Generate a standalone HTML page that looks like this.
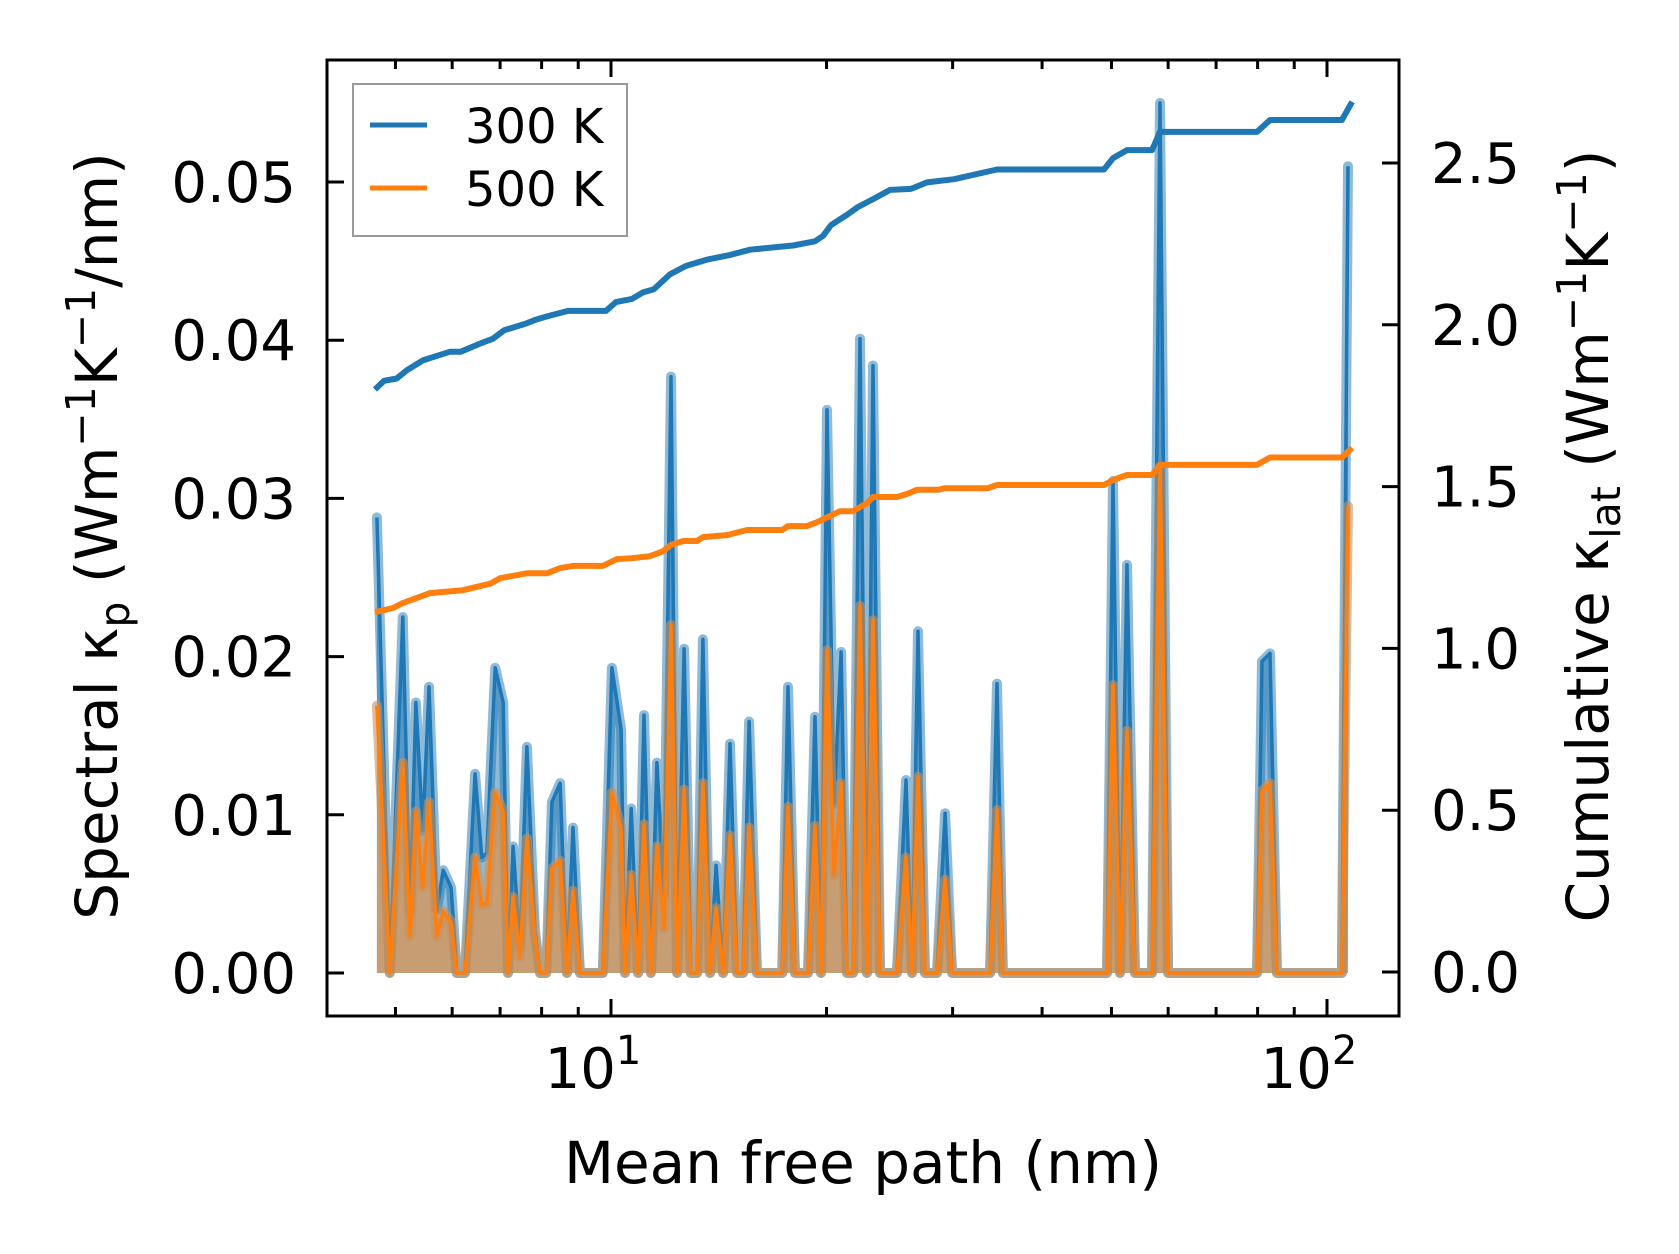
<!DOCTYPE html>
<html><head><meta charset="utf-8"><style>
html,body{margin:0;padding:0;background:#fff;}
svg{display:block;font-family:"DejaVu Sans","Liberation Sans",sans-serif;}
</style></head><body>
<svg id="chart" width="1679" height="1254" viewBox="0 0 1679 1254" xmlns="http://www.w3.org/2000/svg" style="position:absolute;left:0;top:0">
<rect width="1679" height="1254" fill="#fff"/>
<defs><clipPath id="clip"><rect x="327" y="60" width="1072" height="956"/></clipPath></defs>
<g id="plot" clip-path="url(#clip)"></g>
<g id="axes"></g>
<rect x="327" y="60" width="1072" height="956" fill="none" stroke="#000" stroke-width="3"/>
<g>
<rect x="353" y="84" width="274" height="152" fill="#fff" fill-opacity="0.8" stroke="#999" stroke-width="2"/>
<line x1="370" y1="125" x2="427" y2="125" stroke="#1f77b4" stroke-width="5"/>
<text x="465" y="143" font-size="48">300 K</text>
<line x1="370" y1="188" x2="427" y2="188" stroke="#ff7f0e" stroke-width="5"/>
<text x="465" y="206" font-size="48">500 K</text>
</g>
<text x="863" y="1183" font-size="58" text-anchor="middle">Mean free path (nm)</text>
<text transform="translate(117,536) rotate(-90)" font-size="58" text-anchor="middle">Spectral κ<tspan font-size="41" dy="12">p</tspan><tspan dy="-12"> (Wm</tspan><tspan font-size="41" dy="-22">−1</tspan><tspan dy="22">K</tspan><tspan font-size="41" dy="-22">−1</tspan><tspan dy="22">/nm)</tspan></text>
<text transform="translate(1608,536) rotate(-90)" font-size="58" text-anchor="middle">Cumulative κ<tspan font-size="41" dy="12">lat</tspan><tspan dy="-12"> (Wm</tspan><tspan font-size="41" dy="-22">−1</tspan><tspan dy="22">K</tspan><tspan font-size="41" dy="-22">−1</tspan><tspan dy="22">)</tspan></text>
</svg>
<script>
const mfp = [4.71,4.91,5.12,5.24,5.34,5.46,5.57,5.71,5.83,5.98,6.09,6.25,6.46,6.60,6.71,6.89,7.07,7.18,7.30,7.46,7.63,7.83,7.96,8.12,8.27,8.49,8.68,8.85,9.05,9.74,10.03,10.33,10.46,10.67,10.91,11.12,11.37,11.59,11.86,12.13,12.37,12.65,12.93,13.19,13.44,13.75,14.02,14.34,14.66,15.0,15.29,15.59,15.99,17.34,17.67,18.07,18.84,19.27,19.65,20.03,20.49,20.96,21.36,21.78,22.27,22.78,23.22,23.75,25.08,25.82,26.33,26.84,27.45,28.53,29.28,29.95,33.83,34.60,35.27,49.29,50.25,51.39,52.57,53.94,56.96,58.45,59.99,79.84,81.14,83.26,85.16,104.9,107.0];
const spec300 = [0.0288,0,0.0225,0.0038,0.0171,0.009,0.0181,0.004,0.0065,0.0054,0,0,0.0126,0.0073,0.0076,0.0193,0.0171,0,0.008,0.0017,0.0143,0.0027,0,0,0.0108,0.012,0,0.0092,0,0,0.0193,0.0154,0,0.0104,0,0.0163,0,0.0133,0.0049,0.0377,0,0.0205,0,0,0.0211,0,0.0068,0,0.0145,0,0,0.0159,0,0,0.0181,0,0,0.0162,0,0.0356,0.0107,0.0203,0,0,0.0401,0,0.0384,0,0,0.0122,0,0.0216,0,0,0.0101,0,0,0.0183,0,0,0.0311,0,0.0258,0,0,0.055,0,0,0.0197,0.0202,0,0,0.051];
const spec500 = [0.0169,0,0.0133,0.0023,0.0102,0.0054,0.0108,0.0023,0.0039,0.0032,0,0,0.0073,0.0043,0.0044,0.0114,0.0102,0,0.0048,0.001,0.0085,0.0023,0,0,0.0066,0.0071,0,0.0052,0,0,0.0114,0.0091,0,0.0062,0,0.0094,0,0.008,0.0028,0.022,0,0.0116,0,0,0.012,0,0.0041,0,0.0087,0,0,0.0092,0,0,0.0105,0,0,0.0093,0,0.0204,0.0062,0.012,0,0,0.0232,0,0.0223,0,0,0.0073,0,0.0124,0,0,0.0059,0,0,0.0103,0,0,0.0182,0,0.0153,0,0,0.032,0,0,0.0115,0.012,0,0,0.0295];
const cumX300 = [4.68,4.82,5.02,5.19,5.46,5.96,6.17,6.60,6.84,7.09,7.59,7.86,8.14,8.71,9.84,10.16,10.70,11.08,11.48,12.09,12.73,13.66,14.62,15.64,17.96,19.27,19.78,20.29,21.36,22.13,23.30,24.53,26.24,27.63,30.14,34.60,48.82,50.25,52.57,56.96,58.45,79.84,83.26,104.9,108.4];
const cum300 = [1.80,1.827,1.834,1.86,1.89,1.917,1.917,1.944,1.957,1.983,2.003,2.016,2.026,2.043,2.043,2.07,2.08,2.10,2.11,2.156,2.182,2.202,2.215,2.232,2.245,2.258,2.275,2.308,2.34,2.364,2.39,2.417,2.42,2.44,2.45,2.48,2.48,2.515,2.54,2.54,2.596,2.596,2.633,2.633,2.689];
const cumX500 = [4.68,4.96,5.12,5.59,6.21,6.78,7.00,7.63,8.14,8.49,8.85,9.74,10.19,10.73,11.33,11.82,12.13,12.61,13.19,13.44,14.52,15.49,17.34,17.67,18.78,19.40,20.23,20.88,21.78,22.78,23.22,25.08,25.90,26.75,28.62,29.28,33.61,34.60,48.82,50.25,52.57,56.96,58.45,79.84,83.26,104.9,108.4];
const cum500 = [1.112,1.125,1.14,1.171,1.18,1.20,1.217,1.232,1.232,1.248,1.255,1.255,1.276,1.279,1.285,1.30,1.32,1.332,1.332,1.344,1.35,1.366,1.366,1.378,1.378,1.39,1.409,1.424,1.424,1.449,1.468,1.468,1.477,1.49,1.49,1.495,1.495,1.505,1.505,1.52,1.536,1.536,1.567,1.567,1.59,1.59,1.62];
const leftTicks = [0,0.01,0.02,0.03,0.04,0.05];
const leftTickLabels = ["0.00","0.01","0.02","0.03","0.04","0.05"];
const rightTicks = [0,0.5,1.0,1.5,2.0,2.5];
const rightTickLabels = ["0.0","0.5","1.0","1.5","2.0","2.5"];
const xMajor = [10,100];
const xMajorExp = ["1","2"];
const xMinor = [5,6,7,8,9,20,30,40,50,60,70,80,90];

const NS="http://www.w3.org/2000/svg";
const L=327,R=1399,T=60,B=1016;
function sx(v){return 611+(Math.log10(v)-1)*716;}
function syL(v){return 973-v*15820;}
function syR(v){return 972-v*323.6;}
function mk(tag,attrs,parent){const e=document.createElementNS(NS,tag);for(const k in attrs)e.setAttribute(k,attrs[k]);parent.appendChild(e);return e;}
const plot=document.getElementById('plot'), axes=document.getElementById('axes');

function linePts(xs,ys,fy){return xs.map((x,i)=>sx(x).toFixed(1)+','+fy(ys[i]).toFixed(1)).join(' ');}
function areaPath(xs,ys){let d='M'+sx(xs[0]).toFixed(1)+','+syL(0);xs.forEach((x,i)=>{d+=' L'+sx(x).toFixed(1)+','+syL(ys[i]).toFixed(1);});d+=' L'+sx(xs[xs.length-1]).toFixed(1)+','+syL(0)+' Z';return d;}

let e=mk('path',{d:areaPath(mfp,spec300),fill:'#1f77b4','fill-opacity':0.5,stroke:'none'},plot);


e=mk('polyline',{points:linePts(mfp,spec300,syL),fill:'none',stroke:'#1f77b4','stroke-opacity':0.5,'stroke-width':10,'stroke-linejoin':'round','stroke-linecap':'round'},plot);


e=mk('polyline',{points:linePts(mfp,spec300,syL),fill:'none',stroke:'#1f77b4','stroke-width':3.5,'stroke-linejoin':'round'},plot);


e=mk('path',{d:areaPath(mfp,spec500),fill:'#ff7f0e','fill-opacity':0.5,stroke:'none'},plot);


e=mk('polyline',{points:linePts(mfp,spec500,syL),fill:'none',stroke:'#c8915a','stroke-opacity':0.6,'stroke-width':10,'stroke-linejoin':'round','stroke-linecap':'round'},plot);


e=mk('polyline',{points:linePts(mfp,spec500,syL),fill:'none',stroke:'#ff7f0e','stroke-width':3.5,'stroke-linejoin':'round'},plot);


e=mk('polyline',{points:linePts(cumX300,cum300,syR),fill:'none',stroke:'#1f77b4','stroke-width':6,'stroke-linejoin':'round'},plot);


e=mk('polyline',{points:linePts(cumX500,cum500,syR),fill:'none',stroke:'#ff7f0e','stroke-width':6,'stroke-linejoin':'round'},plot);



const tk={stroke:'#000','stroke-width':3};
xMajor.forEach((v,i)=>{const x=sx(v);
  e=mk('line',Object.assign({x1:x,x2:x,y1:B,y2:B-17},tk),axes);
  
  
  e=mk('line',Object.assign({x1:x,x2:x,y1:T,y2:T+17},tk),axes);
  
  
  const t=mk('text',{x:x-18,y:1088,'font-size':56,'text-anchor':'middle'},axes);
  
  
  t.textContent='10';
  const s=mk('tspan',{dy:-24,'font-size':40},t);s.textContent=xMajorExp[i];
});
xMinor.forEach(v=>{const x=sx(v);
  e=mk('line',Object.assign({x1:x,x2:x,y1:B,y2:B-9},tk),axes);
  
  
  e=mk('line',Object.assign({x1:x,x2:x,y1:T,y2:T+9},tk),axes);
  
  
});
leftTicks.forEach((v,i)=>{const y=syL(v);
  e=mk('line',Object.assign({x1:L,x2:L+17,y1:y,y2:y},tk),axes);
  
  
  const t=mk('text',{x:296,y:y+20,'font-size':56,'text-anchor':'end'},axes);
  
  
  t.textContent=leftTickLabels[i];
});
rightTicks.forEach((v,i)=>{const y=syR(v);
  e=mk('line',Object.assign({x1:R,x2:R-17,y1:y,y2:y},tk),axes);
  
  
  const t=mk('text',{x:1431,y:y+20,'font-size':56,'text-anchor':'start'},axes);
  
  
  t.textContent=rightTickLabels[i];
});
</script>
</body></html>
